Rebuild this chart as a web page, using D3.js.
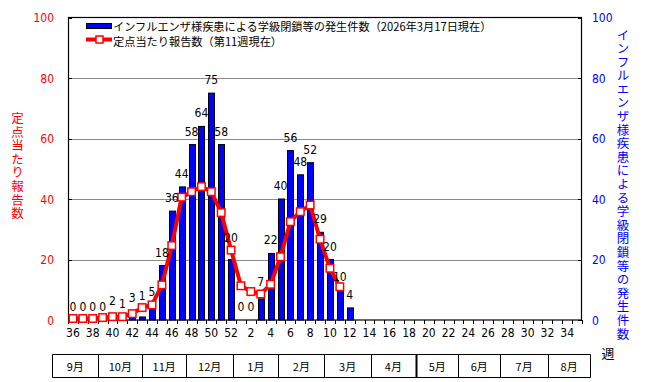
<!DOCTYPE html>
<html><head><meta charset="utf-8">
<script src="https://cdn.jsdelivr.net/npm/d3@7"></script>
<style>body{margin:0;background:#fff}svg{display:block}</style>
</head><body>
<svg id="c" width="647" height="382"></svg>
<script>
// ---- data ----
const weeks = [36,37,38,39,40,41,42,43,44,45,46,47,48,49,50,51,52,
  1,2,3,4,5,6,7,8,9,10,11,12,13,14,15,16,17,18,19,20,21,22,23,24,25,26,27,28,29,30,31,32,33,34,35];
// 学級閉鎖等の発生件数 (bars)
const closures = [0,0,0,0,2,1,3,1,5,18,36,44,58,64,75,58,20,
  0,0,7,22,40,56,48,52,29,20,10,4];
// 定点当たり報告数 (line)
const perSite = [0.5,0.5,0.5,0.8,1.1,1.1,2.1,4.1,5.0,11.6,24.6,40.6,42.4,44.1,42.4,35.5,23.1,
  11.3,9.4,8.6,11.8,20.9,32.5,35.8,38.0,26.7,17.1,11.0];
const yTicks = [0,20,40,60,80,100];
const months = ["9月","10月","11月","12月","1月","2月","3月","4月","5月","6月","7月","8月"];
// month cell edges, in week-slot units along the x axis
const monthEdges = [-1.6,3.07,7.52,11.94,16.73,21.29,25.94,30.64,35.2,39.5,43.7,48.6,52.8];
const legendBar = "インフルエンザ様疾患による学級閉鎖等の発生件数（2026年3月17日現在）";
const legendLine = "定点当たり報告数（第11週現在）";
const leftTitle = "定点当たり報告数";
const rightTitle = "インフルエンザ様疾患による学級閉鎖等の発生件数";
const xTitle = "週";

// ---- drawing ----
const svg = d3.select("#c");
const L = 68, R = 582, T = 17.5, B = 320;
const JP = "'Noto Sans CJK JP', sans-serif";
const NUM = "'Liberation Sans Narrow', 'DejaVu Sans Condensed', 'Liberation Sans', sans-serif";

const x = d3.scaleBand().domain(weeks.map(String)).range([L, R]).padding(0);
const xi = d3.scaleLinear().domain([0, weeks.length]).range([L, R]);
const y = d3.scaleLinear().domain([0, 100]).range([B, T]);
const cx = i => x(String(weeks[i])) + x.bandwidth() / 2;

svg.append("rect").attr("width", 647).attr("height", 382).attr("fill", "#fff");

// gridlines
svg.append("g").selectAll("line").data(yTicks.filter(t => t > 0 && t < 100)).join("line")
  .attr("x1", L).attr("x2", R).attr("y1", d => Math.round(y(d)) + 0.5).attr("y2", d => Math.round(y(d)) + 0.5)
  .attr("stroke", "#8c8c8c").attr("stroke-width", 1);

// inner ticks left/right
svg.append("g").selectAll("line").data(yTicks).join("line")
  .attr("x1", L).attr("x2", L + 4).attr("y1", d => Math.round(y(d)) + 0.5).attr("y2", d => Math.round(y(d)) + 0.5)
  .attr("stroke", "#000");
svg.append("g").selectAll("line").data(yTicks).join("line")
  .attr("x1", R - 4).attr("x2", R).attr("y1", d => Math.round(y(d)) + 0.5).attr("y2", d => Math.round(y(d)) + 0.5)
  .attr("stroke", "#000");

// bars
const barW = 6;
svg.append("g").selectAll("rect").data(closures).join("rect")
  .attr("x", (d, i) => Math.round(cx(i) - barW / 2) + 0.5)
  .attr("y", d => y(d))
  .attr("width", barW)
  .attr("height", d => Math.max(0, B - y(d)))
  .attr("fill", "#0000ff").attr("stroke", "#000").attr("stroke-width", 1)
  .attr("display", d => d > 0 ? null : "none");

// frame
svg.append("rect").attr("x", L + 0.5).attr("y", T).attr("width", R - L - 1).attr("height", B - T)
  .attr("fill", "none").attr("stroke", "#000").attr("stroke-width", 1.2);

// bottom ticks at slot boundaries
svg.append("g").selectAll("line").data(d3.range(weeks.length + 1)).join("line")
  .attr("x1", d => Math.round(xi(d)) + 0.5).attr("x2", d => Math.round(xi(d)) + 0.5)
  .attr("y1", B).attr("y2", B + 4).attr("stroke", "#000");

// x tick labels (every other week)
svg.append("g").selectAll("text").data(weeks.filter((w, i) => i % 2 === 0)).join("text")
  .attr("x", d => x(String(d)) + x.bandwidth() / 2).attr("y", 337)
  .attr("text-anchor", "middle").attr("font-family", NUM).attr("font-size", 12).attr("fill", "#000")
  .text(d => d);

// left axis labels
svg.append("g").selectAll("text").data(yTicks).join("text")
  .attr("x", 54).attr("y", d => y(d) + 4.5).attr("text-anchor", "end")
  .attr("font-family", NUM).attr("font-size", 12).attr("fill", "#ff0000").text(d => d);
// right axis labels
svg.append("g").selectAll("text").data(yTicks).join("text")
  .attr("x", 592).attr("y", d => y(d) + 4.5).attr("text-anchor", "start")
  .attr("font-family", NUM).attr("font-size", 12).attr("fill", "#0000ff").text(d => d);

// line
const line = d3.line().x((d, i) => cx(i)).y(d => y(d));
svg.append("path").datum(perSite).attr("d", line)
  .attr("fill", "none").attr("stroke", "#ff0000").attr("stroke-width", 4).attr("stroke-linejoin", "round");
svg.append("g").selectAll("rect").data(perSite).join("rect")
  .attr("x", (d, i) => cx(i) - 3.75).attr("y", d => y(d) - 3.75).attr("width", 7.5).attr("height", 7.5)
  .attr("fill", "#fff").attr("stroke", "#ff0000").attr("stroke-width", 1.5);

// bar value labels
svg.append("g").selectAll("text").data(closures).join("text")
  .attr("x", (d, i) => cx(i)).attr("text-anchor", "middle")
  .attr("y", (d, i) => {
    let base = y(d) - 9;
    const m = perSite[i];
    if (m !== undefined) {
      const ym = y(m);
      if (base > ym - 5 && base - 9 < ym + 5) base = ym - 8;
    }
    return base;
  })
  .attr("font-family", NUM).attr("font-size", 12).attr("fill", "#000").text(d => d);

// legend
svg.append("rect").attr("x", 86.5).attr("y", 23.5).attr("width", 25).attr("height", 5)
  .attr("fill", "#0000ff").attr("stroke", "#000");
svg.append("text").attr("x", 113).attr("y", 30.5).attr("font-family", JP).attr("font-size", 11.2)
  .attr("fill", "#000").text(legendBar);
svg.append("line").attr("x1", 86).attr("x2", 112).attr("y1", 39.5).attr("y2", 39.5)
  .attr("stroke", "#ff0000").attr("stroke-width", 4);
svg.append("rect").attr("x", 96).attr("y", 36).attr("width", 7).attr("height", 7)
  .attr("fill", "#fff").attr("stroke", "#ff0000").attr("stroke-width", 1.5);
svg.append("text").attr("x", 113).attr("y", 45.5).attr("font-family", JP).attr("font-size", 11.2)
  .attr("fill", "#000").text(legendLine);

// vertical titles (single text element in vertical writing mode)
function vText(str, xc, y0, color) {
  svg.append("text").attr("x", xc).attr("y", y0)
    .style("writing-mode", "vertical-rl").style("text-orientation", "upright")
    .style("letter-spacing", "1.1px")
    .attr("font-family", JP).attr("font-size", 12.5).attr("fill", color).text(str);
}
vText(leftTitle, 17.5, 112, "#ff0000");
vText(rightTitle, 623, 28.5, "#0000ff");

svg.append("text").attr("x", 608).attr("y", 352).attr("text-anchor", "middle")
  .attr("dominant-baseline", "central").attr("font-family", JP).attr("font-size", 13).attr("fill", "#000").text(xTitle);

// month table
const tTop = 354.5, tBot = 377.5;
const mx = v => Math.round(xi(v)) + 0.5;
svg.append("line").attr("x1", mx(monthEdges[0])).attr("x2", mx(monthEdges[monthEdges.length - 1]))
  .attr("y1", tTop).attr("y2", tTop).attr("stroke", "#000");
svg.append("line").attr("x1", mx(monthEdges[0])).attr("x2", mx(monthEdges[monthEdges.length - 1]))
  .attr("y1", tBot).attr("y2", tBot).attr("stroke", "#000");
svg.append("g").selectAll("line").data(monthEdges).join("line")
  .attr("x1", d => mx(d)).attr("x2", d => mx(d)).attr("y1", tTop).attr("y2", tBot)
  .attr("stroke", "#000").attr("stroke-width", (d, i) => i === 8 ? 2 : 1);
svg.append("g").selectAll("text").data(months).join("text")
  .attr("x", (d, i) => (xi(monthEdges[i]) + xi(monthEdges[i + 1])) / 2).attr("y", 366)
  .attr("text-anchor", "middle").attr("dominant-baseline", "central")
  .attr("font-family", JP).attr("font-size", 11).attr("fill", "#000").text(d => d);
</script>
</body></html>
